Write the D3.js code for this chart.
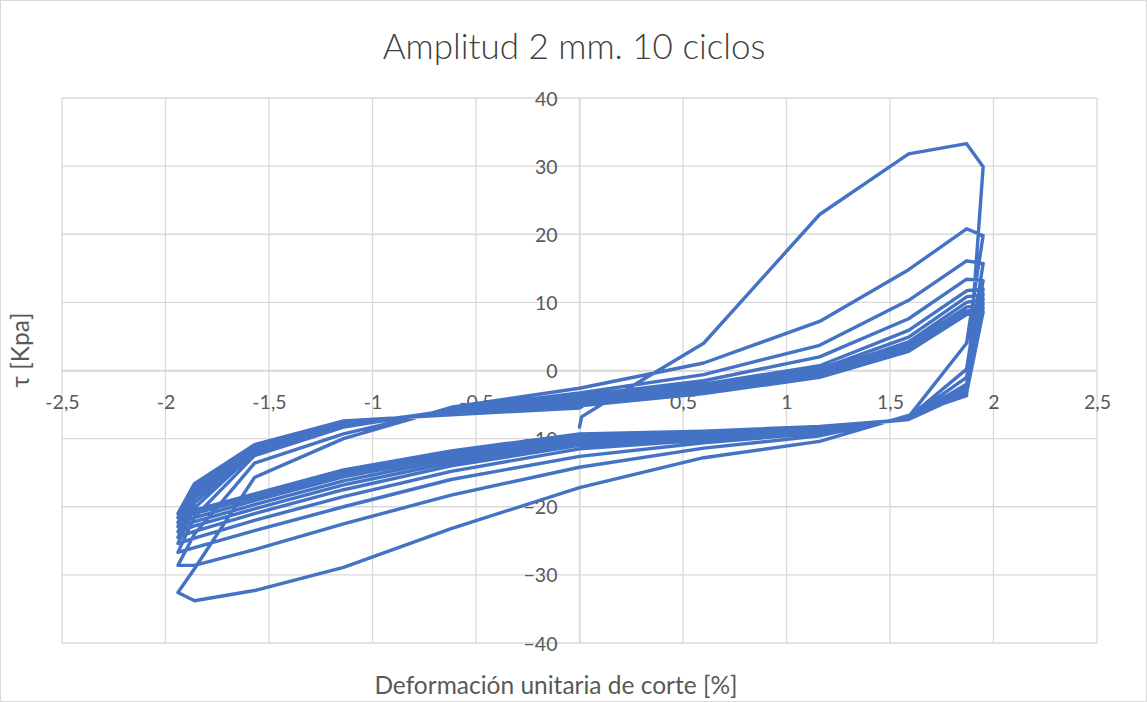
<!DOCTYPE html>
<html><head><meta charset="utf-8">
<script src="https://cdn.jsdelivr.net/npm/d3@7"></script>
<style>
html,body{margin:0;padding:0;background:#fff;}
text{font-family:Lato,"Open Sans",sans-serif;fill:#595959;}
</style></head>
<body>
<svg id="c" width="1147" height="702"></svg>
<script>
// Tick labels
const xTicks = [-2.5,-2,-1.5,-1,-0.5,0,0.5,1,1.5,2,2.5];
const yTicks = [-40,-30,-20,-10,0,10,20,30,40];

// Sample strain positions (%)
const xUp   = [-1.86,-1.57,-1.14,-0.62,0,0.6,1.16,1.59,1.87,1.95];
const xDown = [1.87,1.59];
const xLow  = [1.16,0.6,0,-0.62,-1.14,-1.57,-1.86,-1.94];

// Initial loading
const startX = [0,0.01,0.1,0.6,1.16,1.59,1.87,1.95];
const startY = [-8.3,-6.8,-5.1,4.0,22.9,31.8,33.3,29.9];

// Descent after each positive peak (values at x=1.87, 1.59)
const down1 = [-3.7,-6.6], down2 = [4.0,-6.8], down3 = [0.2,-6.9], down4 = [-1.0,-7.0],
      down5 = [-2.0,-7.0], down6 = [-2.4,-7.1], down7 = [-2.7,-7.1], down8 = [-2.9,-7.2],
      down9 = [-3.1,-7.2], down10 = [-3.3,-7.2];

// Lower (unloading) branches, x = 1.16 ... -1.94
const low1  = [-10.4,-12.8,-17.2,-23.2,-28.9,-32.3,-33.8,-32.6];
const low2  = [-9.6,-11.4,-14.2,-18.3,-22.5,-26.3,-28.6,-28.6];
const low3  = [-9.2,-10.6,-12.6,-16.0,-20.0,-23.5,-26.0,-26.7];
const low4  = [-9.0,-10.2,-11.5,-14.8,-18.5,-22.0,-24.6,-25.4];
const low5  = [-8.8,-9.9,-11.0,-14.0,-17.5,-21.0,-23.6,-24.5];
const low6  = [-8.6,-9.7,-10.6,-13.5,-16.8,-20.3,-22.8,-23.7];
const low7  = [-8.5,-9.5,-10.2,-13.0,-16.2,-19.7,-22.2,-22.9];
const low8  = [-8.4,-9.3,-9.9,-12.6,-15.6,-19.1,-21.6,-22.3];
const low9  = [-8.3,-9.1,-9.6,-12.2,-15.1,-18.6,-21.0,-21.6];
const low10 = [-8.2,-8.9,-9.3,-11.8,-14.6,-18.1,-20.5,-21.0];

// Upper (reloading) branches, x = -1.86 ... 1.95
const up2  = [-29.1,-15.7,-10.0,-5.4,-2.6,1.1,7.2,14.8,20.8,19.8];
const up3  = [-24.0,-13.6,-9.3,-5.6,-3.3,-0.6,3.7,10.3,16.1,15.7];
const up4  = [-21.5,-12.5,-8.3,-5.8,-3.7,-1.5,2.0,7.6,13.4,13.2];
const up5  = [-20.2,-12.0,-8.0,-5.9,-4.0,-2.0,0.7,5.9,11.7,12.0];
const up6  = [-19.4,-11.7,-7.9,-6.0,-4.3,-2.4,0.2,4.9,10.8,11.2];
const up7  = [-18.7,-11.5,-7.8,-6.1,-4.6,-2.7,-0.2,4.2,10.0,10.5];
const up8  = [-18.1,-11.3,-7.7,-6.2,-4.8,-3.0,-0.5,3.7,9.3,9.8];
const up9  = [-17.5,-11.1,-7.6,-6.3,-5.0,-3.2,-0.8,3.2,8.7,9.2];
const up10 = [-17.0,-11.0,-7.5,-6.4,-5.2,-3.4,-1.0,2.8,8.2,8.6];
const endX = [-1.86,-1.57,-1.14,-0.62,0];
const endY = [-16.6,-10.9,-7.4,-6.5,-5.5];

const downs = [down1,down2,down3,down4,down5,down6,down7,down8,down9,down10];
const lows  = [low1,low2,low3,low4,low5,low6,low7,low8,low9,low10];
const ups   = [up2,up3,up4,up5,up6,up7,up8,up9,up10];

// Build path as a sequence of [x,y]
const pts = [];
startX.forEach((x,i)=>pts.push([x,startY[i]]));
for(let k=0;k<10;k++){
  downs[k].forEach((y,i)=>pts.push([xDown[i],y]));
  lows[k].forEach((y,i)=>pts.push([xLow[i],y]));
  if(k<9) ups[k].forEach((y,i)=>pts.push([xUp[i],y]));
}
endX.forEach((x,i)=>pts.push([x,endY[i]]));

const svg = d3.select("#c");
const W=1147,H=702;
svg.append("rect").attr("x",0.5).attr("y",0.5).attr("width",W-1).attr("height",H-1)
  .attr("fill","#fff").attr("stroke","#d9d9d9");

const x = d3.scaleLinear().domain([-2.5,2.5]).range([62,1097]);
const y = d3.scaleLinear().domain([-40,40]).range([643,98]);

// gridlines
svg.append("g").selectAll("line.v").data(xTicks).join("line")
  .attr("x1",d=>x(d)).attr("x2",d=>x(d)).attr("y1",y(40)).attr("y2",y(-40))
  .attr("stroke","#d9d9d9").attr("stroke-width",1.3);
svg.append("g").selectAll("line.h").data(yTicks).join("line")
  .attr("y1",d=>y(d)).attr("y2",d=>y(d)).attr("x1",x(-2.5)).attr("x2",x(2.5))
  .attr("stroke","#d9d9d9").attr("stroke-width",1.3);

// axes through origin
const xAxis = d3.axisBottom(x).tickValues(xTicks).tickSize(0).tickPadding(0)
  .tickFormat(d=>String(d).replace(".",","));
const gx = svg.append("g").attr("transform",`translate(0,${y(0)})`).call(xAxis);
gx.select(".domain").attr("stroke","#d9d9d9").attr("stroke-width",1.3);
gx.selectAll("text").attr("dy",null).attr("y",38).style("font-size","19.5px")
  .style("font-family","Lato,sans-serif").attr("fill","#595959");

const yAxis = d3.axisLeft(y).tickValues(yTicks).tickSize(0).tickPadding(0);
const gy = svg.append("g").attr("transform",`translate(${x(0)},0)`).call(yAxis);
gy.select(".domain").attr("stroke","#d9d9d9").attr("stroke-width",1.3);
gy.selectAll("text").attr("x",-22).attr("dy","0.36em").style("font-size","19.5px")
  .style("font-family","Lato,sans-serif").attr("fill","#595959");

// data line
svg.append("path").datum(pts)
  .attr("fill","none").attr("stroke","#4472C4").attr("stroke-width",3.4)
  .attr("stroke-linejoin","round").attr("stroke-linecap","round")
  .attr("d",d3.line().x(d=>x(d[0])).y(d=>y(d[1])));

// titles
svg.append("text").attr("x",574).attr("y",59).attr("text-anchor","middle")
  .style("font-size","35px").style("font-weight","300").style("fill","#404040")
  .text("Amplitud 2 mm. 10 ciclos");
svg.append("text").attr("x",556).attr("y",694).attr("text-anchor","middle")
  .style("font-size","24.5px").text("Deformación unitaria de corte [%]");
svg.append("text").attr("transform","translate(29,350) rotate(-90)").attr("text-anchor","middle")
  .style("font-size","24.5px").text("τ [Kpa]");
</script>
</body></html>
